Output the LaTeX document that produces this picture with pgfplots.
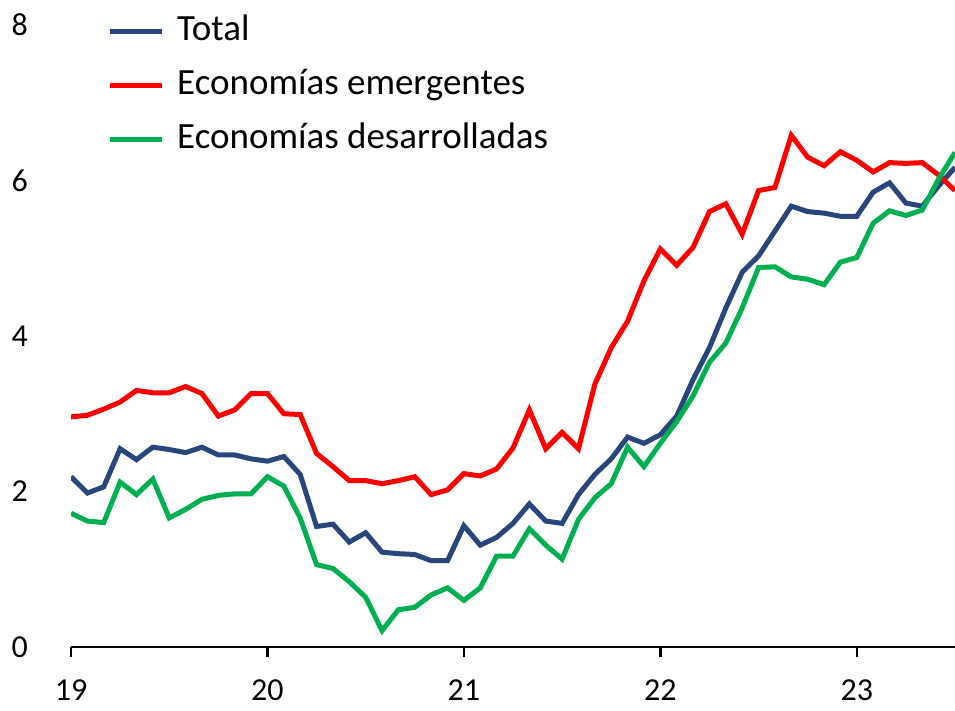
\documentclass[border=0pt]{standalone}
\usepackage{fontspec}
\setmainfont{Carlito}
\usepackage{pgfplots}
\pgfplotsset{compat=1.18}
\usepackage{pgfplotstable}
\definecolor{cblue}{RGB}{41,70,124}
\definecolor{cred}{RGB}{255,0,0}
\definecolor{cgreen}{RGB}{0,176,80}

\pgfplotstableread{
m total emer desa
0 2.19 2.96 1.72
1 1.98 2.98 1.62
2 2.06 3.06 1.60
3 2.55 3.15 2.12
4 2.41 3.30 1.96
5 2.57 3.27 2.16
6 2.54 3.27 1.66
7 2.50 3.35 1.77
8 2.57 3.26 1.90
9 2.47 2.97 1.95
10 2.47 3.05 1.97
11 2.42 3.26 1.97
12 2.39 3.26 2.19
13 2.45 3.00 2.07
14 2.22 2.99 1.66
15 1.55 2.49 1.06
16 1.58 2.32 1.01
17 1.35 2.14 0.84
18 1.47 2.14 0.64
19 1.22 2.10 0.21
20 1.20 2.14 0.48
21 1.19 2.19 0.51
22 1.11 1.96 0.67
23 1.11 2.02 0.76
24 1.56 2.23 0.60
25 1.31 2.20 0.76
26 1.41 2.29 1.17
27 1.59 2.56 1.17
28 1.84 3.05 1.52
29 1.62 2.55 1.31
30 1.59 2.76 1.13
31 1.96 2.55 1.64
32 2.22 3.38 1.92
33 2.42 3.85 2.10
34 2.70 4.19 2.57
35 2.62 4.71 2.32
36 2.73 5.12 2.62
37 2.97 4.91 2.90
38 3.44 5.14 3.23
39 3.85 5.60 3.66
40 4.36 5.70 3.91
41 4.82 5.31 4.36
42 5.03 5.87 4.88
43 5.35 5.91 4.89
44 5.67 6.58 4.76
45 5.60 6.30 4.73
46 5.58 6.19 4.66
47 5.54 6.37 4.95
48 5.54 6.26 5.01
49 5.85 6.11 5.45
50 5.97 6.23 5.61
51 5.71 6.22 5.55
52 5.67 6.23 5.62
53 5.93 6.07 6.02
54 6.17 5.87 6.36
}\datatable

\begin{document}
\begin{tikzpicture}[x=1pt,y=1pt]
\begin{axis}[
  at={(71pt,63pt)}, anchor=south west,
  width=884pt, height=622pt, scale only axis,
  xmin=0, xmax=54, ymin=0, ymax=8,
  /pgf/number format/assume math mode=true,
  axis x line*=bottom, axis y line*=left,
  y axis line style={draw=none},
  x axis line style={black, line width=2.5pt, -},
  xtick={0,12,24,36,48}, xticklabels={19,20,21,22,23},
  ytick={0,2,4,6,8},
  tick align=outside, major tick length=10pt,
  x tick style={black, line width=2.5pt},
  y tick style={draw=none},
  x tick label style={font=\fontsize{32}{38}\selectfont, anchor=north, inner sep=0pt, yshift=-23pt},
  y tick label style={font=\fontsize{32}{38}\selectfont, anchor=east, inner sep=0pt, xshift=-33pt},
  legend style={at={(axis description cs:0.0407,1.0177)}, anchor=north west, draw=none, fill=none, inner sep=0pt,
    font=\fontsize{37}{45}\selectfont, row sep=20pt,
    nodes={inner sep=0pt, text height=26pt, text depth=8pt},
    /tikz/every odd column/.append style={column sep=13pt}},
  legend cell align=left,
  legend image code/.code={\draw[#1, line width=5pt] (0pt,0pt) -- (52pt,0pt);},
]
\addplot[cblue, line width=5pt] table[x=m, y=total] {\datatable};
\addlegendentry{Total}
\addplot[cred, line width=5pt] table[x=m, y=emer] {\datatable};
\addlegendentry{Economías emergentes}
\addplot[cgreen, line width=5pt] table[x=m, y=desa] {\datatable};
\addlegendentry{Economías desarrolladas}
\end{axis}
\pgfresetboundingbox
\path (0,0) rectangle (955,710);
\end{tikzpicture}
\end{document}
